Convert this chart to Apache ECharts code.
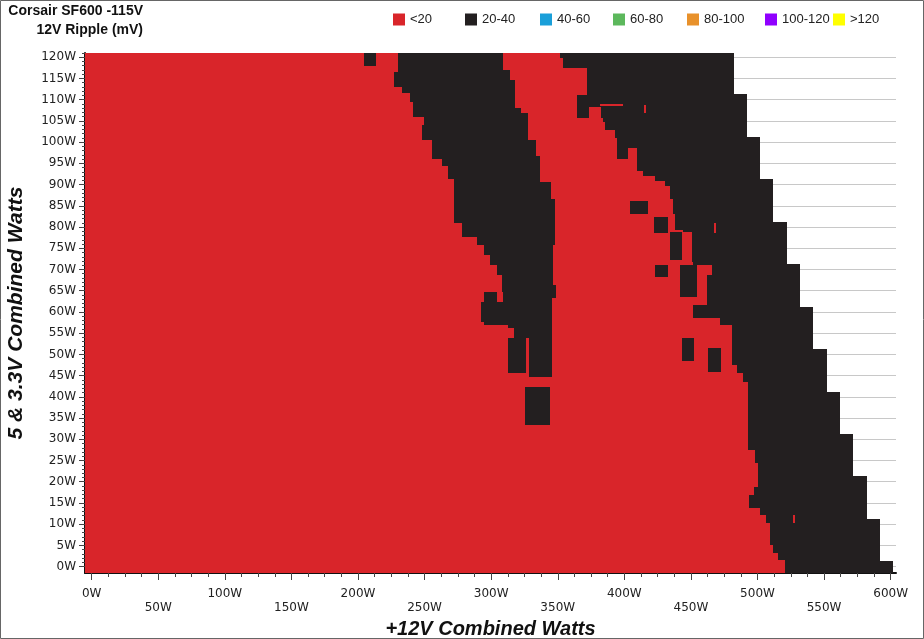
<!DOCTYPE html>
<html><head><meta charset="utf-8">
<script src="https://cdn.jsdelivr.net/npm/echarts@6/dist/echarts.min.js"></script>
<style>html,body{margin:0;padding:0;background:#fff}#c{width:924px;height:639px}</style>
</head><body><div id="c"></div>
<script>
// ---- legend / classes ----
const legendNames  = ['<20','20-40','40-60','60-80','80-100','100-120','>120'];
const legendColors = ['#d9252a','#231f20','#1a9fd9','#5cb85c','#e8912b','#9000ff','#ffff00'];
const legendLeft   = [393,465,540,613,687,765,833];

// ---- tick labels ----
const xTicks = [0,50,100,150,200,250,300,350,400,450,500,550,600];
const yTicks = [0,5,10,15,20,25,30,35,40,45,50,55,60,65,70,75,80,85,90,95,100,105,110,115,120];

// ---- measured area: max +12V load per band of 5&3.3V load ----
const stepYBreaks = [-1.5,1.25,11.25,21.25,31.25,41.25,51.25,61.25,71.25,81.25,91.25,101.25,111.25,121];
const stepMaxX    = [602,592,582,572,562,552,542,532,522,512,502,492,482];

// ---- 20-40 mV zone, left band: [yLo, yHi, xFrom, xTo] ----
const blackB = [
 [117.0,121.0,229.8,308.6],[116.5,117.0,229.8,313.9],[114.6,116.5,226.8,313.9],[113.0,114.6,226.8,317.6],
 [111.6,113.0,232.8,317.6],[109.5,111.6,238.8,317.6],[108.0,109.5,241.0,317.6],[106.9,108.0,241.0,322.1],
 [105.9,106.9,241.0,327.4],[104.0,105.9,249.3,327.4],[100.6,104.0,247.8,327.4],[96.7,100.6,255.3,333.4],
 [96.0,96.7,255.3,336.4],[94.4,96.0,262.8,336.4],[91.3,94.4,267.3,336.4],[90.6,91.3,271.8,336.4],
 [86.6,90.6,271.8,344.7],[80.9,86.6,271.8,347.7],[77.6,80.9,277.8,347.7],[75.8,77.6,289.1,347.7],
 [73.4,75.8,294.4,346.2],[71.0,73.4,298.9,346.2],[68.7,71.0,304.1,346.2],[66.3,68.7,307.9,346.2],
 [64.7,66.3,307.9,348.4],[63.3,64.7,294.4,304.1],[63.3,64.7,308.6,348.4],[62.3,63.3,294.4,304.1],
 [62.3,63.3,308.6,345.4],[57.6,62.3,292.1,345.4],[56.9,57.6,294.4,345.4],[56.2,56.9,312.4,345.4],
 [53.9,56.2,316.9,345.4],[45.6,53.9,312.4,325.9],[44.7,53.9,328.2,345.4],[33.4,42.3,325.1,343.9]
];

// ---- 20-40 mV zone, right band: [yLo, yHi, xFrom] (runs to the measured limit) ----
const blackC = [
 [119.8,121.0,351.4],[117.5,119.8,353.7],[111.1,117.5,371.7],[105.7,111.1,364.2],[104.7,105.7,383.7],
 [102.9,104.7,385.2],[101.0,102.9,392.7],[98.7,101.0,394.2],[93.2,98.7,409.2],[92.0,93.2,413.7],
 [90.8,92.0,422.7],[89.7,90.8,430.3],[86.6,89.7,434.0],[83.1,86.6,436.3],[79.3,83.1,437.8],
 [78.8,79.3,443.8],[71.8,78.8,450.6],[71.0,71.8,451.3],[68.7,71.0,465.6],[61.6,68.7,461.8],
 [58.5,61.6,451.3],[56.9,58.5,471.6],[47.5,56.9,480.6],[45.6,47.5,484.3],[43.5,45.6,488.8],
 [27.5,43.5,492.6],[24.4,27.5,497.9],[18.8,24.4,500.2],[16.9,18.8,497.1],[13.8,16.9,493.4],
 [12.2,13.8,501.6],[10.3,12.2,506.1],[5.1,10.3,509.1],[3.2,5.1,511.4],[1.6,3.2,515.2],[-1.5,1.6,520.4]
];

// ---- isolated 20-40 mV patches: [yLo, yHi, xFrom, xTo] ----
const blackBits = [
 [118.0,121.0,204.3,213.3],[96.0,98.7,394.2,402.5],[83.1,86.1,404.0,417.5],[78.6,82.4,422.0,432.5],
 [72.2,78.8,434.0,443.0],[68.2,71.0,422.7,432.5],[63.5,71.0,441.5,454.3],[48.4,53.9,443.0,452.1],
 [45.8,51.5,462.6,472.4]
];

// ---- <20 mV patches inside the 20-40 zone: [yLo, yHi, xFrom, xTo] ----
const redBits = [
 [105.7,108.3,373.2,382.2],[108.6,109.1,381.5,398.7],[106.9,108.7,415.0,416.0],
 [78.6,80.9,467.5,468.5],[10.3,12.2,527.0,528.0]
];

const X_MIN = -5, X_MAX = 604, Y_MIN = -1.5, Y_MAX = 121;

// build rect lists [x0, x1, y0, y1]
const redBase = stepMaxX.map((mx, i) => [X_MIN, mx, stepYBreaks[i], stepYBreaks[i + 1]]);
const blackRects = [];
blackB.forEach(r => blackRects.push([r[2], r[3], r[0], r[1]]));
blackC.forEach(r => {
  for (let i = 0; i < stepMaxX.length; i++) {
    const lo = Math.max(r[0], stepYBreaks[i]), hi = Math.min(r[1], stepYBreaks[i + 1]);
    if (hi > lo) blackRects.push([r[2], stepMaxX[i], lo, hi]);
  }
});
blackBits.forEach(r => blackRects.push([r[2], r[3], r[0], r[1]]));
const redRects = redBits.map(r => [r[2], r[3], r[0], r[1]]);

const xMinor = []; for (let v = 0; v <= 600; v += 12.5) xMinor.push(v);
const yMinor = []; for (let v = 0; v <= 121; v += 1) yMinor.push(v);

function rectItem(params, api) {
  const a = api.coord([api.value(0), api.value(3)]);
  const b = api.coord([api.value(1), api.value(2)]);
  const x0 = Math.round(a[0]), y0 = Math.round(a[1]), x1 = Math.round(b[0]), y1 = Math.round(b[1]);
  return { type: 'rect', shape: { x: x0, y: y0, width: Math.max(1, x1 - x0), height: Math.max(1, y1 - y0) },
           style: { fill: api.visual('color') } };
}

function rectSeries(name, color, data) {
  return { type: 'custom', name: name, renderItem: rectItem, data: data, clip: true, silent: true,
           encode: { x: [0, 1], y: [2, 3] }, itemStyle: { color: color } };
}

const nameFont = { fontFamily: 'Liberation Sans', fontWeight: 'bold', fontStyle: 'italic', fontSize: 20, color: '#111' };
const tickFont = { fontFamily: 'DejaVu Sans', fontSize: 12, color: '#222' };

const series = [rectSeries(legendNames[0], legendColors[0], redBase),
                rectSeries(legendNames[1], legendColors[1], blackRects)];
for (let i = 2; i < legendNames.length; i++) series.push(rectSeries(legendNames[i], legendColors[i], []));
series.push(rectSeries(legendNames[0], legendColors[0], redRects));

const option = {
  animation: false,
  backgroundColor: '#fff',
  grid: { left: 85, right: 28, top: 53, bottom: 66, containLabel: false, outerBoundsMode: 'none' },
  legend: legendNames.map((n, i) => ({
    data: [n], left: legendLeft[i], top: 13, padding: 0, itemWidth: 12, itemHeight: 12, itemGap: 0,
    icon: 'rect', selectedMode: false,
    textStyle: { fontFamily: 'Liberation Sans', fontSize: 13, color: '#222' }
  })),
  xAxis: [{
    type: 'value', min: X_MIN, max: X_MAX, position: 'bottom',
    axisLine: { show: true, onZero: false, lineStyle: { color: '#111', width: 2 } },
    axisTick: { show: true, length: 7, customValues: xTicks, lineStyle: { color: '#444' } },
    axisLabel: Object.assign({ customValues: xTicks, lineHeight: 14, margin: 14,
      formatter: v => (v % 100 === 0 ? v + 'W' : '\n' + v + 'W') }, tickFont),
    splitLine: { show: false },
    name: '+12V Combined Watts', nameLocation: 'middle', nameGap: 42, nameTextStyle: nameFont
  }, {
    type: 'value', min: X_MIN, max: X_MAX, position: 'bottom',
    axisLine: { show: false, onZero: false },
    axisTick: { show: true, length: 4, customValues: xMinor, lineStyle: { color: '#444' } },
    axisLabel: { show: false }, splitLine: { show: false }
  }],
  yAxis: [{
    type: 'value', min: Y_MIN, max: Y_MAX, position: 'left',
    axisLine: { show: true, onZero: false, lineStyle: { color: '#111', width: 2 } },
    axisTick: { show: true, length: 6, customValues: yTicks, lineStyle: { color: '#444' } },
    axisLabel: Object.assign({ customValues: yTicks, margin: 9, formatter: v => v + 'W' }, tickFont),
    splitLine: { show: true, lineStyle: { color: '#c8c8c8', width: 1 } },
    name: '5 & 3.3V Combined Watts', nameLocation: 'middle', nameGap: 58,
    nameTextStyle: Object.assign({}, nameFont, { fontSize: 21 })
  }, {
    type: 'value', min: Y_MIN, max: Y_MAX, position: 'left',
    axisLine: { show: false, onZero: false },
    axisTick: { show: true, length: 3, customValues: yMinor, lineStyle: { color: '#444' } },
    axisLabel: { show: false }, splitLine: { show: false }
  }],
  graphic: [
    { type: 'text', x: 143, y: 11, style: { text: 'Corsair SF600 -115V', align: 'right', verticalAlign: 'middle',
      font: 'bold 14px "Liberation Sans"', fill: '#111' } },
    { type: 'text', x: 143, y: 30, style: { text: '12V Ripple (mV)', align: 'right', verticalAlign: 'middle',
      font: 'bold 14px "Liberation Sans"', fill: '#111' } },
    { type: 'rect', shape: { x: 0.5, y: 0.5, width: 923, height: 638 }, silent: true, z: 100,
      style: { fill: 'none', stroke: '#666', lineWidth: 1 } }
  ],
  series: series
};

const chart = echarts.init(document.getElementById('c'), null, { renderer: 'canvas' });
chart.setOption(option);
</script>
</body></html>
